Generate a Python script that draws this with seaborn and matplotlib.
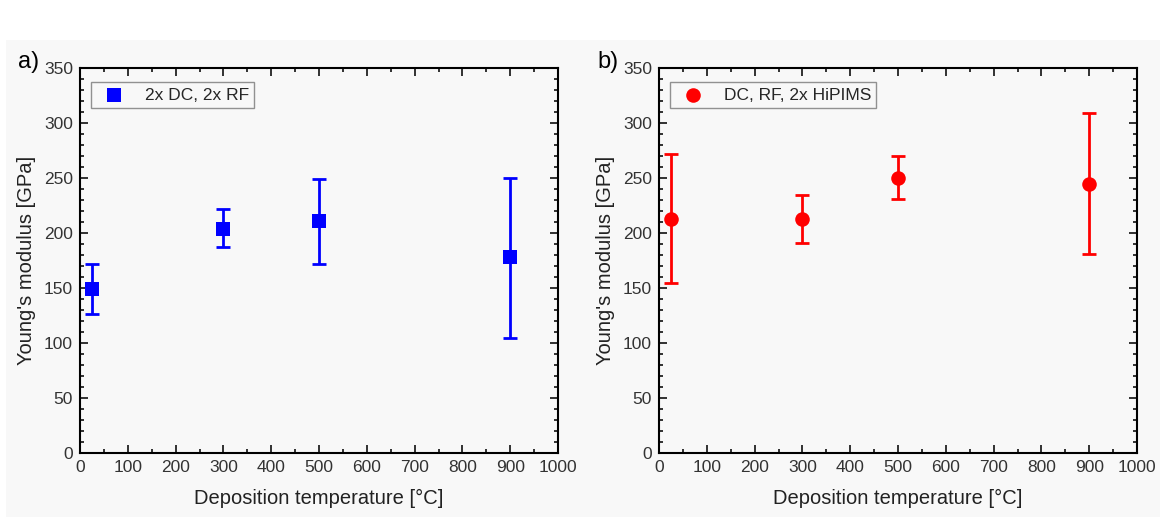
import numpy as np
import pandas as pd
import matplotlib
matplotlib.use("Agg")
import matplotlib.pyplot as plt
import seaborn as sns
from matplotlib.ticker import MultipleLocator

# -------------------------------
# DATA
# -------------------------------

temps = [25, 300, 500, 900]

dc_rf_mean = [149, 204, 211, 178]
dc_rf_low = [126, 187, 172, 105]
dc_rf_high = [172, 222, 249, 250]

hipims_mean = [213, 213, 250, 245]
hipims_low = [155, 191, 231, 181]
hipims_high = [272, 235, 270, 309]

panels = [
    ("a)", "2x DC, 2x RF", "s", "#0000ff", dc_rf_mean, dc_rf_low, dc_rf_high),
    ("b)", "DC, RF, 2x HiPIMS", "o", "#ff0000", hipims_mean, hipims_low, hipims_high),
]

# -------------------------------
# STYLE
# -------------------------------

sns.set_theme(style="ticks")
plt.rcParams["font.family"] = ["Liberation Sans", "DejaVu Sans"]
bg = "#f8f8f8"

fig = plt.figure(figsize=(11.66, 5.28), dpi=100, facecolor="white")
fig.patches.append(plt.Rectangle((0.005, 0.02), 0.99, 0.905, transform=fig.transFigure,
                                 facecolor=bg, edgecolor="none", zorder=-10))

lefts = [80 / 1166, 659 / 1166]
w = 478 / 1166
bottom = (528 - 453) / 528
h = 385 / 528

for (tag, label, marker, color, mean, low, high), left in zip(panels, lefts):
    ax = fig.add_axes([left, bottom, w, h])
    ax.set_facecolor(bg)
    df = pd.DataFrame({"T": temps, "E": mean})
    yerr = [np.array(mean) - np.array(low), np.array(high) - np.array(mean)]
    ax.errorbar(temps, mean, yerr=yerr, fmt="none", ecolor=color,
                elinewidth=2, capsize=5, capthick=2, zorder=2)
    sns.scatterplot(data=df, x="T", y="E", ax=ax, marker=marker, color=color,
                    s=110 if marker == "o" else 90, edgecolor=color, linewidth=0,
                    label=label, zorder=3)

    ax.set_xlim(0, 1000)
    ax.set_ylim(0, 350)
    ax.xaxis.set_major_locator(MultipleLocator(100))
    ax.xaxis.set_minor_locator(MultipleLocator(50))
    ax.yaxis.set_major_locator(MultipleLocator(50))
    ax.yaxis.set_minor_locator(MultipleLocator(10))
    ax.tick_params(which="both", direction="in", top=True, right=True,
                   labelsize=12.5, width=1.3, colors="#222222", labelcolor="#333333")
    ax.tick_params(which="major", length=6, pad=5)
    ax.tick_params(which="minor", length=3)
    for s in ax.spines.values():
        s.set_linewidth(1.5)
        s.set_color("black")

    ax.set_xlabel("Deposition temperature [°C]", fontsize=14.5, color="#222222", labelpad=10)
    ax.set_ylabel("Young's modulus [GPa]", fontsize=14.5, color="#222222", labelpad=6)

    leg = ax.legend(loc="upper left", frameon=True, fancybox=False, fontsize=12.5,
                    borderpad=0.3, handletextpad=0.8, markerscale=1.0,
                    bbox_to_anchor=(0.005, 0.985))
    leg.get_frame().set_edgecolor("#777777")
    leg.get_frame().set_facecolor(bg)
    leg.get_frame().set_linewidth(1.0)

    fig.text(left - 62 / 1166, (528 - 62) / 528, tag, fontsize=17, color="black",
             va="center", ha="left")

fig.savefig("out.png", dpi=100, facecolor="white")
